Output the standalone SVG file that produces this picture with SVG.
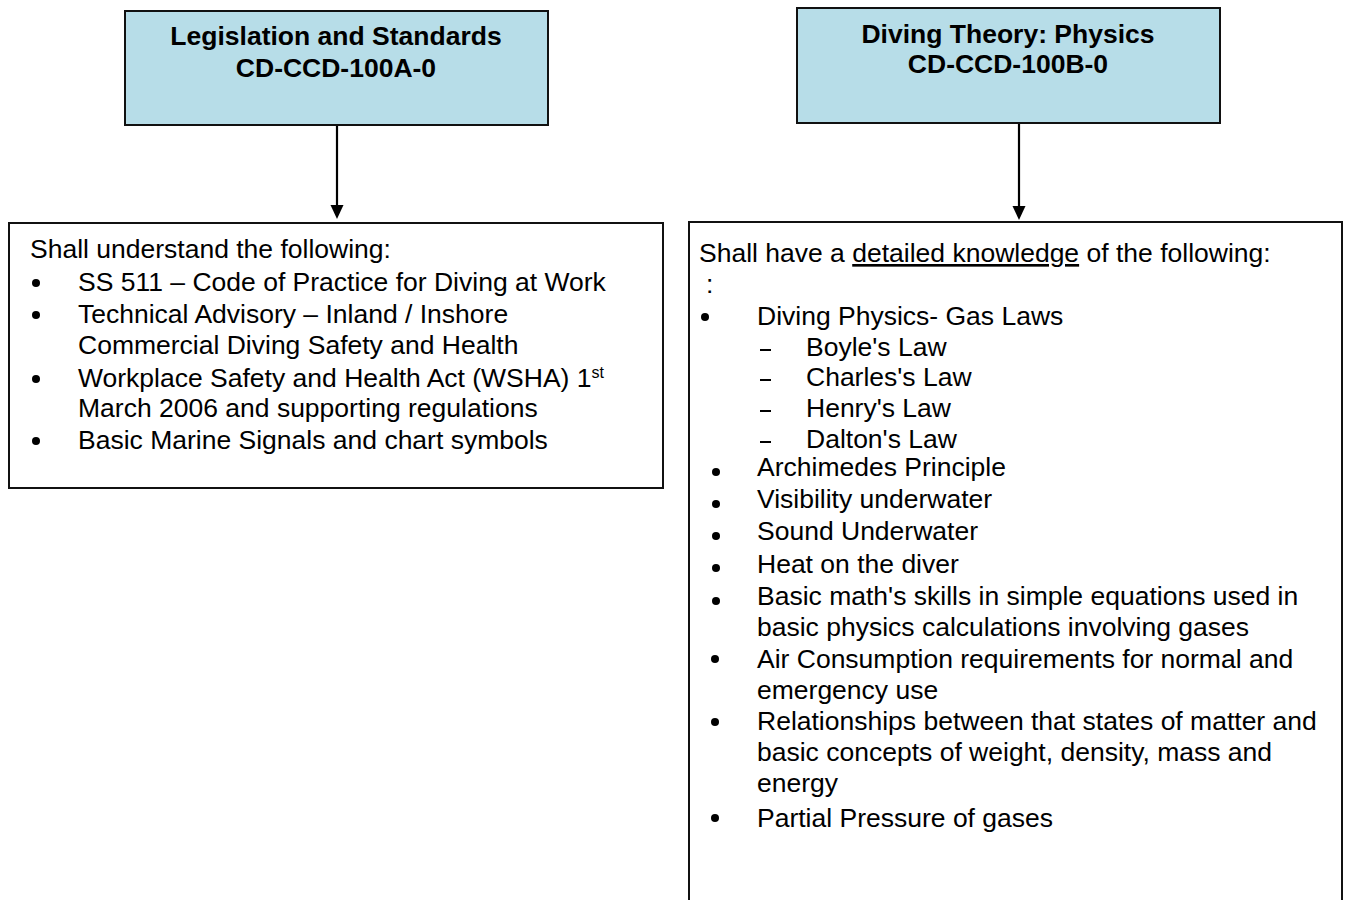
<svg xmlns="http://www.w3.org/2000/svg" width="1347" height="900" viewBox="0 0 1347 900">
<style>
.hdr{fill:#b7dde8;stroke:#111;stroke-width:2}
.box{fill:#fff;stroke:#111;stroke-width:2}
.t{font-family:"Liberation Sans",Arial,sans-serif;font-size:26.5px;fill:#000}
.b{font-weight:bold;text-anchor:middle}
.conn{stroke:#000;stroke-width:2.2;fill:none}
</style>
<rect width="1347" height="900" fill="#fff"/>
<g id="connectors">
<line class="conn" x1="337" y1="125" x2="337" y2="206"/>
<path d="M330.5,205 L343.5,205 L337,219 Z" fill="#000"/>
<line class="conn" x1="1019" y1="123" x2="1019" y2="207"/>
<path d="M1012.5,206 L1025.5,206 L1019,220 Z" fill="#000"/>
</g>
<g id="legislation">
<rect class="hdr" x="125" y="11" width="423" height="114"/>
<text class="t b" x="336" y="45">Legislation and Standards</text>
<text class="t b" x="336" y="77">CD-CCD-100A-0</text>
</g>
<g id="physics">
<rect class="hdr" x="797" y="8" width="423" height="115"/>
<text class="t b" x="1008" y="43">Diving Theory: Physics</text>
<text class="t b" x="1008" y="73">CD-CCD-100B-0</text>
</g>
<g id="legislation-detail">
<rect class="box" x="9" y="223" width="654" height="265"/>
<text class="t" x="30" y="258">Shall understand the following:</text>
<g fill="#000">
<circle cx="36" cy="283" r="4"/>
<circle cx="36" cy="315" r="4"/>
<circle cx="36" cy="379" r="4"/>
<circle cx="36" cy="441" r="4"/>
</g>
<text class="t" x="78" y="291">SS 511 – Code of Practice for Diving at Work</text>
<text class="t" x="78" y="323">Technical Advisory – Inland / Inshore</text>
<text class="t" x="78" y="354">Commercial Diving Safety and Health</text>
<text class="t" x="78" y="387">Workplace Safety and Health Act (WSHA) 1<tspan font-size="16" dy="-9">st</tspan></text>
<text class="t" x="78" y="417">March 2006 and supporting regulations</text>
<text class="t" x="78" y="449">Basic Marine Signals and chart symbols</text>
</g>
<g id="physics-detail">
<path class="box" d="M689,902 L689,222 L1342,222 L1342,902"/>
<text class="t" x="699" y="262">Shall have a <tspan text-decoration="underline">detailed knowledge</tspan> of the following:</text>
<text class="t" x="706" y="293">:</text>
<circle cx="705" cy="317" r="4" fill="#000"/>
<text class="t" x="757" y="325">Diving Physics- Gas Laws</text>
<g fill="#000">
<rect x="760" y="349" width="11" height="2"/>
<rect x="760" y="379" width="11" height="2"/>
<rect x="760" y="410" width="11" height="2"/>
<rect x="760" y="441" width="11" height="2"/>
</g>
<text class="t" x="806" y="356">Boyle's Law</text>
<text class="t" x="806" y="386">Charles's Law</text>
<text class="t" x="806" y="417">Henry's Law</text>
<text class="t" x="806" y="448">Dalton's Law</text>
<g fill="#000">
<circle cx="716" cy="472" r="4"/>
<circle cx="716" cy="504" r="4"/>
<circle cx="716" cy="536" r="4"/>
<circle cx="716" cy="568" r="4"/>
<circle cx="716" cy="601" r="4"/>
<circle cx="715" cy="659" r="4"/>
<circle cx="715" cy="722" r="4"/>
<circle cx="715" cy="818" r="4"/>
</g>
<text class="t" x="757" y="476">Archimedes Principle</text>
<text class="t" x="757" y="508">Visibility underwater</text>
<text class="t" x="757" y="540">Sound Underwater</text>
<text class="t" x="757" y="573">Heat on the diver</text>
<text class="t" x="757" y="605">Basic math's skills in simple equations used in</text>
<text class="t" x="757" y="636">basic physics calculations involving gases</text>
<text class="t" x="757" y="668">Air Consumption requirements for normal and</text>
<text class="t" x="757" y="699">emergency use</text>
<text class="t" x="757" y="730">Relationships between that states of matter and</text>
<text class="t" x="757" y="761">basic concepts of weight, density, mass and</text>
<text class="t" x="757" y="792">energy</text>
<text class="t" x="757" y="827">Partial Pressure of gases</text>
</g>
</svg>
